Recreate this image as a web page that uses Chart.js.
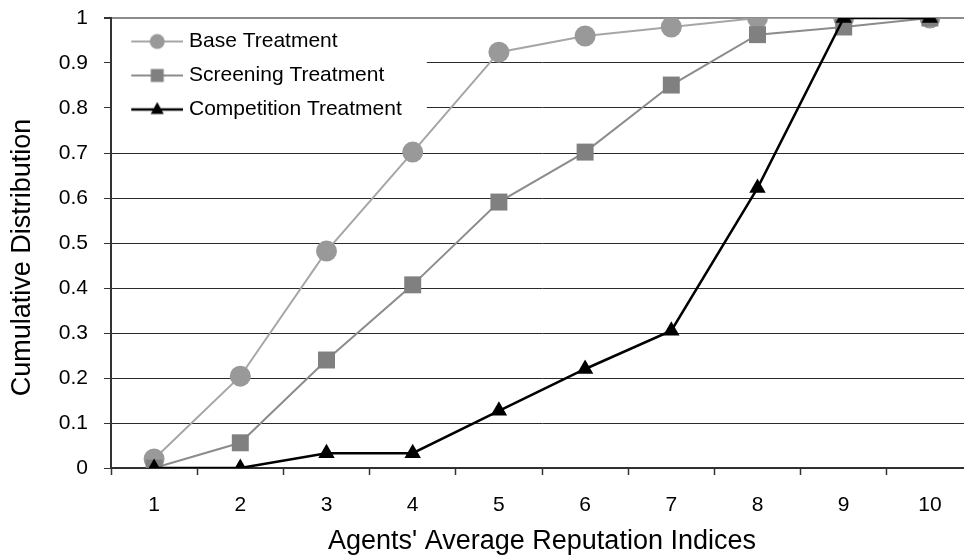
<!DOCTYPE html>
<html>
<head>
<meta charset="utf-8">
<script src="https://cdn.jsdelivr.net/npm/chart.js@4"></script>
<style>
  html, body { margin: 0; padding: 0; background: #fff; overflow: hidden; width: 964px; height: 558px; }
  #chart { position: absolute; left: 0; top: 0; }
</style>
</head>
<body>
<canvas id="chart" width="974" height="558"></canvas>
<script>
// categories and series
const indices = ['1', '2', '3', '4', '5', '6', '7', '8', '9', '10'];
const baseTreatment = [0.02, 0.204, 0.482, 0.702, 0.924, 0.96, 0.98, 1.0, 1.0, 1.0];
const screeningTreatment = [0, 0.056, 0.24, 0.407, 0.591, 0.702, 0.851, 0.963, 0.98, 1.0];
const competitionTreatment = [0, 0, 0.033, 0.033, 0.127, 0.22, 0.305, 0.622, 1.0, 1.0];

const FONT = 'Liberation Sans, Arial, sans-serif';

// small line+marker glyph for the legend
function legendIcon(ds) {
    const c = document.createElement('canvas');
    c.width = 64;
    c.height = 26;
    const g = c.getContext('2d');
    const cx = 38, cy = 13;
    g.strokeStyle = ds.borderColor;
    g.lineWidth = ds.borderWidth;
    g.beginPath();
    g.moveTo(12, cy);
    g.lineTo(64, cy);
    g.stroke();
    g.fillStyle = ds.pointBackgroundColor;
    g.beginPath();
    if (ds.pointStyle === 'circle') {
        g.arc(cx, cy, 7.5, 0, Math.PI * 2);
    } else if (ds.pointStyle === 'rect') {
        g.rect(cx - 6.5, cy - 6.5, 13, 13);
    } else {
        g.moveTo(cx, cy - 7.5);
        g.lineTo(cx + 6.5, cy + 4.5);
        g.lineTo(cx - 6.5, cy + 4.5);
        g.closePath();
    }
    g.fill();
    return c;
}

// legend sits inside the plot: pin it to the top of the chart area,
// paint a white panel behind it (hides the gridlines) and draw it again
const legendPanel = {
    id: 'legendPanel',
    afterLayout(chart) {
        const lg = chart.legend;
        if (lg) {
            lg.top = chart.chartArea.top;
            lg.bottom = lg.top + lg.height;
        }
        // y title sits a bit below the middle of the axis in the original
        const y = chart.scales.y;
        if (y && !y._titleShifted) {
            const orig = y.drawTitle.bind(y);
            y.drawTitle = function() {
                const t = this.top;
                this.top += 29;
                orig();
                this.top = t;
            };
            y._titleShifted = true;
        }
    },
    beforeDatasetsDraw(chart) {
        const lg = chart.legend;
        if (!lg || !lg.legendHitBoxes || !lg.legendHitBoxes.length) return;
        let right = 0, rows = 0;
        lg.legendHitBoxes.forEach(b => {
            right = Math.max(right, b.left + b.width);
            rows += b.height + lg.options.labels.padding;
        });
        const area = chart.chartArea;
        const ctx = chart.ctx;
        ctx.save();
        ctx.fillStyle = '#fff';
        ctx.fillRect(area.left + 1, area.top + 2, right + 24 - area.left, rows + 4);
        ctx.restore();
        lg.draw();
    }
};

new Chart(document.getElementById('chart'), {
    type: 'line',
    data: {
        labels: indices,
        datasets: [
            {
                label: 'Base Treatment',
                data: baseTreatment,
                borderColor: '#a6a6a6',
                borderWidth: 2,
                pointStyle: 'circle',
                pointRadius: 10.5,
                pointBackgroundColor: '#999999',
                pointBorderColor: '#999999',
                pointBorderWidth: 0,
                order: 3
            },
            {
                label: 'Screening Treatment',
                data: screeningTreatment,
                borderColor: '#8c8c8c',
                borderWidth: 2,
                pointStyle: 'rect',
                pointRadius: 12,
                pointBackgroundColor: '#808080',
                pointBorderColor: '#808080',
                pointBorderWidth: 0,
                order: 2
            },
            {
                label: 'Competition Treatment',
                data: competitionTreatment,
                borderColor: '#000',
                borderWidth: 2.5,
                pointStyle: 'triangle',
                pointRadius: 9.5,
                pointBackgroundColor: '#000',
                pointBorderColor: '#000',
                pointBorderWidth: 0,
                order: 1
            }
        ]
    },
    options: {
        responsive: false,
        animation: false,
        layout: { autoPadding: false, padding: { left: 0, right: 1, top: 18, bottom: 0 } },
        plugins: {
            legend: {
                position: 'chartArea',
                align: 'start',
                labels: {
                    usePointStyle: true,
                    pointStyleWidth: 54.5,
                    padding: 13,
                    color: '#000',
                    font: { family: FONT, size: 21 },
                    generateLabels(chart) {
                        return chart.data.datasets.map((ds, i) => ({
                            text: ds.label,
                            pointStyle: legendIcon(ds),
                            datasetIndex: i,
                            hidden: false,
                            lineWidth: 0,
                            fillStyle: 'transparent',
                            strokeStyle: 'transparent'
                        }));
                    }
                }
            },
            tooltip: { enabled: false }
        },
        scales: {
            x: {
                offset: true,
                afterFit(s) { s.height = 90; },
                grid: {
                    offset: true,
                    drawOnChartArea: false,
                    drawTicks: true,
                    tickLength: 7,
                    tickColor: '#333',
                    tickWidth: 1.5
                },
                border: { color: '#333', width: 1.5 },
                ticks: {
                    color: '#000',
                    padding: 18,
                    font: { family: FONT, size: 21 },
                    maxRotation: 0
                },
                title: {
                    display: true,
                    text: "Agents' Average Reputation Indices",
                    color: '#000',
                    font: { family: FONT, size: 27 },
                    padding: { top: 0, bottom: 0 }
                }
            },
            y: {
                min: 0,
                max: 1,
                afterFit(s) {
                    s.width = 111;
                    s.paddingTop = 12;
                    s.paddingBottom = 12;
                },
                grid: {
                    color: ctx => ctx.tick && ctx.tick.value === 1 ? '#8c8c8c' : '#2a2a2a',
                    lineWidth: ctx => ctx.tick && ctx.tick.value === 1 ? 2 : 1,
                    drawTicks: true,
                    tickLength: 7,
                    tickColor: '#333'
                },
                border: { color: '#333', width: 2 },
                ticks: {
                    stepSize: 0.1,
                    color: '#000',
                    padding: 16,
                    font: { family: FONT, size: 21 },
                    callback: v => String(+v.toFixed(1))
                },
                title: {
                    display: true,
                    text: 'Cumulative Distribution',
                    color: '#000',
                    font: { family: FONT, size: 27 },
                    padding: { top: 6, bottom: 0 }
                }
            }
        }
    },
    plugins: [legendPanel]
});
</script>
</body>
</html>
